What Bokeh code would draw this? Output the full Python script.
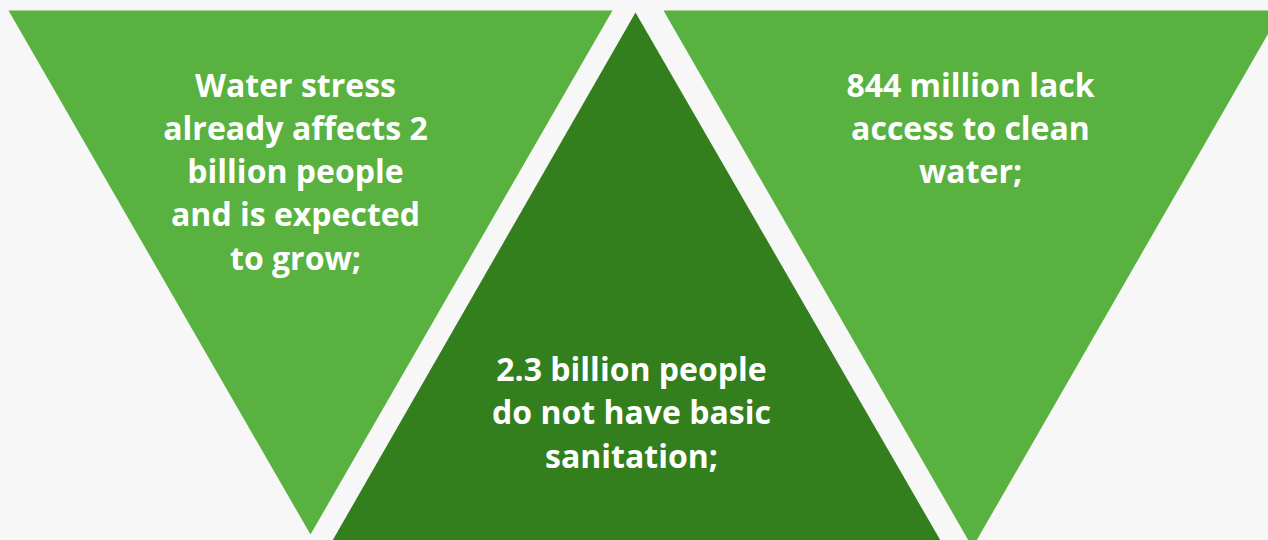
from bokeh.plotting import figure
from bokeh.models import Range1d, ColumnDataSource
from bokeh.core.properties import value
from bokeh.embed import file_html
from bokeh.resources import INLINE

# Triangle vertices (page pixel coordinates)
tri_names = ["left", "middle", "right"]
tri_xs = [[8, 612, 310], [635, 940, 332], [663, 1281, 972]]
tri_ys = [[10, 10, 534], [12, 540, 540], [10, 10, 547]]
tri_colors = ["#59b240", "#337f1e", "#59b240"]

# Text blocks
left_lines = ["Water stress", "already affects 2", "billion people", "and is expected", "to grow;"]
middle_lines = ["2.3 billion people", "do not have basic", "sanitation;"]
right_lines = ["844 million lack", "access to clean", "water;"]
block_centers = [295, 631, 970]
block_first_baseline = [83.7, 368.2, 83.5]
line_pitch = 43.2

BG = "#f7f7f7"

p = figure(width=1268, height=540, output_backend="svg", toolbar_location=None,
           x_range=Range1d(0, 1268), y_range=Range1d(540, 0),
           min_border=0, background_fill_color=BG, border_fill_color=BG)
p.axis.visible = False
p.grid.visible = False
p.outline_line_color = None

p.patches(xs=tri_xs, ys=tri_ys, fill_color=tri_colors, line_color=None)

tx, ty, tt = [], [], []
for lines, cx, y0 in zip([left_lines, middle_lines, right_lines], block_centers, block_first_baseline):
    for i, s in enumerate(lines):
        tx.append(cx)
        ty.append(y0 + i * line_pitch)
        tt.append(s)
src = ColumnDataSource(dict(x=tx, y=ty, t=tt))
p.text(x="x", y="y", text="t", source=src, text_color="white",
       text_font=value("Open Sans"), text_font_style="bold", text_font_size="32px",
       text_align="center", text_baseline="alphabetic")

tmpl = "{% block preamble %}<style>html,body{background:#f7f7f7;margin:0;padding:0;overflow:hidden;}</style>{% endblock %}"
open("out.html", "w").write(file_html(p, INLINE, template=tmpl))
